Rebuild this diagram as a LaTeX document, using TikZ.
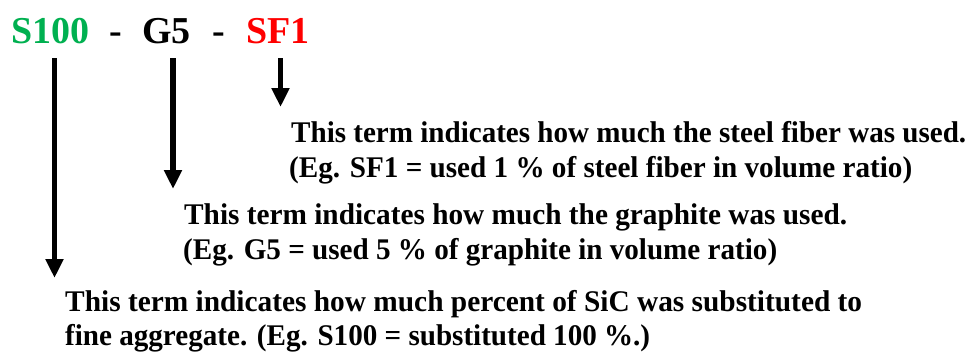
\documentclass[tikz,border=0pt]{standalone}
\usepackage{fontspec}
\setmainfont{Liberation Serif}
\usetikzlibrary{arrows.meta}
\definecolor{pptgreen}{RGB}{0,176,80}
\definecolor{pptred}{RGB}{255,0,0}
\newcommand{\fitw}[2]{\resizebox{#1pt}{\height}{#2}}
\tikzset{
  ttl/.style={inner sep=0pt, anchor=base west, font=\fontsize{38}{44}\selectfont\bfseries},
  txt/.style={inner sep=0pt, anchor=base west, font=\fontsize{30}{34}\selectfont\bfseries},
  pointer/.style={line width=5.6pt, -{Triangle[width=17pt,length=19pt]}}
}
\begin{document}
\begin{tikzpicture}[x=1pt,y=-1pt]
\useasboundingbox (0,0) rectangle (971,351);
% title
\node[ttl, text=pptgreen] (s100) at (11,43) {S100};
\node[ttl] (d1) at (109,43) {-};
\node[ttl] (g5) at (142,43) {G5};
\node[ttl] (d2) at (212,43) {-};
\node[ttl, text=pptred] (sf1) at (246,43) {SF1};
% texts
\node[txt] (sfa) at (291,142) {\fitw{675}{This term indicates how much the steel fiber was used.}};
\node[txt] (sfb) at (289,177) {\fitw{623}{(Eg. SF1 = used 1 \% of steel fiber in volume ratio)}};
\node[txt] (ga) at (184,224) {\fitw{663}{This term indicates how much the graphite was used.}};
\node[txt] (gb) at (183,259) {\fitw{594}{(Eg. G5 = used 5 \% of graphite in volume ratio)}};
\node[txt] (sa) at (65,311) {\fitw{797}{This term indicates how much percent of SiC was substituted to}};
\node[txt] (sb) at (65,345) {\fitw{585}{fine aggregate. (Eg. S100 = substituted 100 \%.)}};
% arrow anchors
\coordinate (sTop) at (54.5,58);
\coordinate (sTip) at (54.5,278);
\coordinate (gTop) at (173,58);
\coordinate (gTip) at (173,189);
\coordinate (fTop) at (280.5,58);
\coordinate (fTip) at (280.5,107);
\draw[pointer] (sTop) -- (sTip);
\draw[pointer] (gTop) -- (gTip);
\draw[pointer] (fTop) -- (fTip);
\end{tikzpicture}
\end{document}
